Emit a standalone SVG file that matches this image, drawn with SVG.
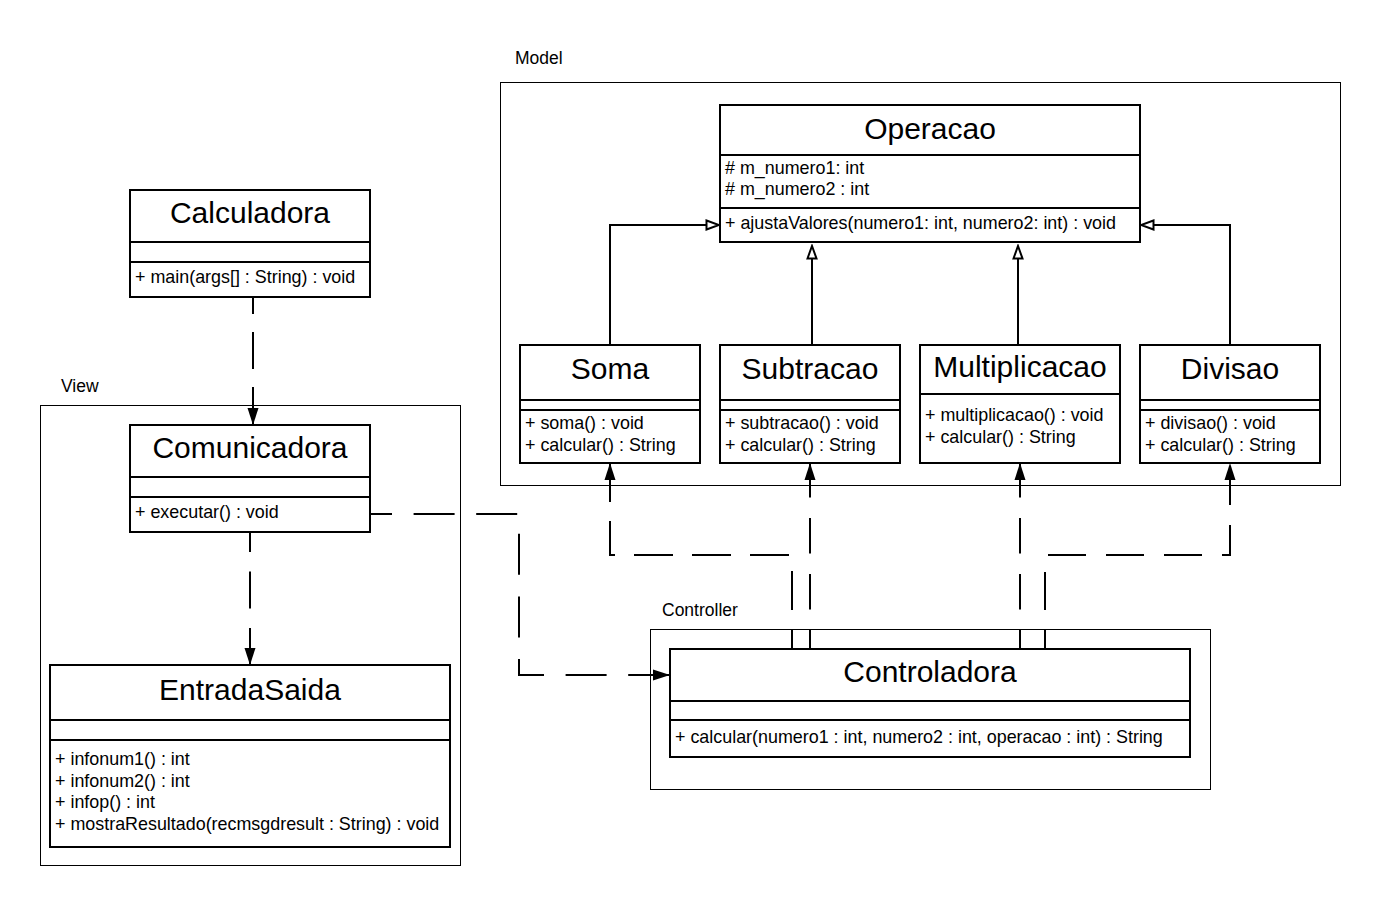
<svg xmlns="http://www.w3.org/2000/svg" width="1380" height="905" viewBox="0 0 1380 905">
<style>
text{font-family:"Liberation Sans",Arial,sans-serif;fill:#000}
.t{font-size:30px;text-anchor:middle}
.m{font-size:17.9px}
.lbl{font-size:17.5px}
.box{fill:#fff;stroke:#000;stroke-width:2}
.ln{stroke:#000;stroke-width:2;fill:none}
.cont{fill:#fff;stroke:#000;stroke-width:1}
.dep{stroke:#000;stroke-width:2;fill:none}
.gen{stroke:#000;stroke-width:2;fill:none}
</style>
<defs>
<marker id="arr" markerUnits="userSpaceOnUse" markerWidth="18" markerHeight="12" refX="17" refY="6" orient="auto">
<path d="M0,0.5 L17,6 L0,11.5 z" fill="#000" stroke="none"/>
</marker>
<marker id="tri" markerUnits="userSpaceOnUse" markerWidth="16" markerHeight="14" refX="14" refY="7" orient="auto">
<path d="M1.5,2.5 L14,7 L1.5,11.5 z" fill="#fff" stroke="#000" stroke-width="2"/>
</marker>
</defs>
<rect width="1380" height="905" fill="#fff"/>

<g id="model">
<rect class="cont" x="500.5" y="82.5" width="840" height="403"/>
<text class="lbl" x="515" y="64">Model</text>
</g>
<g id="view">
<rect class="cont" x="40.5" y="405.5" width="420" height="460"/>
<text class="lbl" x="61" y="392">View</text>
</g>
<g id="controller">
<rect class="cont" x="650.5" y="629.5" width="560" height="160"/>
<text class="lbl" x="662" y="616">Controller</text>
</g>

<g id="connectors">
<path class="dep" d="M253 297 V425" style="stroke-dasharray:37 18;stroke-dashoffset:20" marker-end="url(#arr)"/>
<path class="dep" d="M250 532 V665" style="stroke-dasharray:37 19.5;stroke-dashoffset:17" marker-end="url(#arr)"/>
<path class="dep" d="M370 514 H519 V675 H670" style="stroke-dasharray:41 21.6;stroke-dashoffset:19" marker-end="url(#arr)"/>
<path class="dep" d="M792 649 V555 H610 V463" style="stroke-dasharray:39 19;stroke-dashoffset:19" marker-end="url(#arr)"/>
<path class="dep" d="M810 649 V463" style="stroke-dasharray:35.5 20.5;stroke-dashoffset:16.5" marker-end="url(#arr)"/>
<path class="dep" d="M1020 649 V463" style="stroke-dasharray:35.5 20.5;stroke-dashoffset:16.5" marker-end="url(#arr)"/>
<path class="dep" d="M1045 649 V555 H1230 V463" style="stroke-dasharray:38 20;stroke-dashoffset:19" marker-end="url(#arr)"/>
<path class="gen" d="M610 345 V225 H719" marker-end="url(#tri)"/>
<path class="gen" d="M812 345 V246" marker-end="url(#tri)"/>
<path class="gen" d="M1018 345 V246" marker-end="url(#tri)"/>
<path class="gen" d="M1230 345 V225 H1141" marker-end="url(#tri)"/>
</g>

<g id="Operacao">
<rect class="box" x="720" y="105" width="420" height="137"/>
<path class="ln" d="M720 155 H1140 M720 208 H1140"/>
<text class="t" x="930" y="139">Operacao</text>
<text class="m" x="725" y="174">#  m_numero1: int</text>
<text class="m" x="725" y="195">#  m_numero2 : int</text>
<text class="m" x="725" y="229">+ ajustaValores(numero1: int, numero2: int) : void</text>
</g>

<g id="Soma">
<rect class="box" x="520" y="345" width="180" height="118"/>
<path class="ln" d="M520 400 H700 M520 410 H700"/>
<text class="t" x="610" y="379">Soma</text>
<text class="m" x="525" y="429">+ soma() : void</text>
<text class="m" x="525" y="451">+ calcular() : String</text>
</g>

<g id="Subtracao">
<rect class="box" x="720" y="345" width="180" height="118"/>
<path class="ln" d="M720 400 H900 M720 410 H900"/>
<text class="t" x="810" y="379">Subtracao</text>
<text class="m" x="725" y="429">+ subtracao() : void</text>
<text class="m" x="725" y="451">+ calcular() : String</text>
</g>

<g id="Multiplicacao">
<rect class="box" x="920" y="345" width="200" height="118"/>
<path class="ln" d="M920 394 H1120"/>
<text class="t" x="1020" y="377">Multiplicacao</text>
<text class="m" x="925" y="421">+ multiplicacao() : void</text>
<text class="m" x="925" y="443">+ calcular() : String</text>
</g>

<g id="Divisao">
<rect class="box" x="1140" y="345" width="180" height="118"/>
<path class="ln" d="M1140 400 H1320 M1140 410 H1320"/>
<text class="t" x="1230" y="379">Divisao</text>
<text class="m" x="1145" y="429">+ divisao() : void</text>
<text class="m" x="1145" y="451">+ calcular() : String</text>
</g>

<g id="Calculadora">
<rect class="box" x="130" y="190" width="240" height="107"/>
<path class="ln" d="M130 242 H370 M130 262 H370"/>
<text class="t" x="250" y="223">Calculadora</text>
<text class="m" x="135" y="283">+ main(args[] : String) : void</text>
</g>

<g id="Comunicadora">
<rect class="box" x="130" y="425" width="240" height="107"/>
<path class="ln" d="M130 477 H370 M130 497 H370"/>
<text class="t" x="250" y="458">Comunicadora</text>
<text class="m" x="135" y="518">+ executar() : void</text>
</g>

<g id="EntradaSaida">
<rect class="box" x="50" y="665" width="400" height="182"/>
<path class="ln" d="M50 720 H450 M50 740 H450"/>
<text class="t" x="250" y="700">EntradaSaida</text>
<text class="m" x="55" y="765">+ infonum1() : int</text>
<text class="m" x="55" y="787">+ infonum2() : int</text>
<text class="m" x="55" y="808">+ infop() : int</text>
<text class="m" x="55" y="830">+ mostraResultado(recmsgdresult : String) : void</text>
</g>

<g id="Controladora">
<rect class="box" x="670" y="649" width="520" height="108"/>
<path class="ln" d="M670 701 H1190 M670 720 H1190"/>
<text class="t" x="930" y="682">Controladora</text>
<text class="m" x="675" y="743">+ calcular(numero1 : int, numero2 : int, operacao : int) : String</text>
</g>
</svg>
